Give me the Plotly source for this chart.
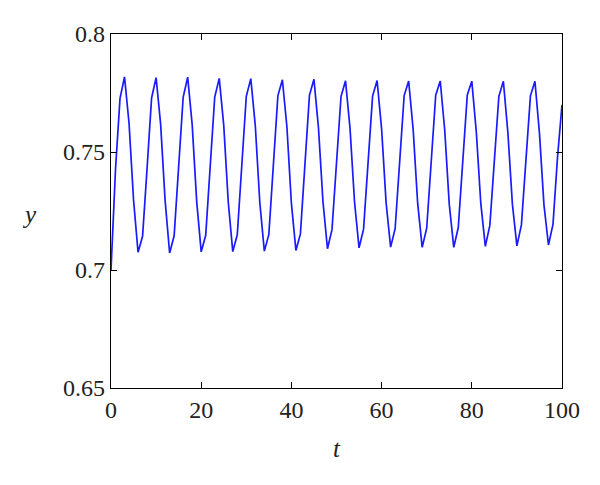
import plotly.graph_objects as go

t_values = list(range(0, 101))
y_values = [
    0.7000, 0.7427, 0.7727, 0.7818, 0.7622, 0.7297, 0.7075, 0.7143, 0.7431, 0.7729,
    0.7815, 0.7619, 0.7294, 0.7072, 0.7145, 0.7434, 0.7732, 0.7817, 0.7616, 0.7291,
    0.7077, 0.7147, 0.7437, 0.7733, 0.7812, 0.7613, 0.7288, 0.7078, 0.7149, 0.7440,
    0.7736, 0.7811, 0.7610, 0.7285, 0.7080, 0.7151, 0.7444, 0.7738, 0.7806, 0.7608,
    0.7282, 0.7083, 0.7153, 0.7447, 0.7740, 0.7808, 0.7603, 0.7290, 0.7090, 0.7171,
    0.7455, 0.7735, 0.7802, 0.7600, 0.7288, 0.7094, 0.7173, 0.7458, 0.7737, 0.7803,
    0.7598, 0.7285, 0.7097, 0.7175, 0.7461, 0.7739, 0.7801, 0.7595, 0.7282, 0.7096,
    0.7177, 0.7464, 0.7741, 0.7801, 0.7592, 0.7279, 0.7096, 0.7180, 0.7468, 0.7742,
    0.7800, 0.7585, 0.7281, 0.7100, 0.7189, 0.7470, 0.7736, 0.7800, 0.7582, 0.7279,
    0.7102, 0.7191, 0.7473, 0.7738, 0.7800, 0.7580, 0.7276, 0.7106, 0.7193, 0.7476,
    0.7700,
]

x_ticks = [0, 20, 40, 60, 80, 100]
y_ticks = [0.65, 0.7, 0.75, 0.8]
y_tick_text = ["0.65", "0.7", "0.75", "0.8"]

font_family = "Liberation Serif, DejaVu Serif, serif"

fig = go.Figure()
fig.add_trace(go.Scatter(
    x=t_values, y=y_values, mode="lines",
    line=dict(color="#1a1aff", width=1.7),
    showlegend=False,
))

axis_common = dict(
    showline=True, linecolor="black", linewidth=1.3, mirror="ticks",
    ticks="inside", ticklen=6, tickwidth=1.2, tickcolor="black",
    showgrid=False, zeroline=False,
    tickfont=dict(family=font_family, size=24, color="#222"),
)

fig.update_xaxes(range=[0, 100], tickvals=x_ticks, **axis_common)
fig.update_yaxes(range=[0.65, 0.8], tickvals=y_ticks, ticktext=y_tick_text, **axis_common)

fig.add_annotation(text="<i>y</i>", xref="paper", yref="paper", x=-0.18, y=0.49,
                   xanchor="center", yanchor="middle",
                   showarrow=False, font=dict(family=font_family, size=25, color="#222"))
fig.add_annotation(text="<i>t</i>", xref="paper", yref="paper", x=0.5, y=-0.17,
                   xanchor="center", yanchor="middle",
                   showarrow=False, font=dict(family=font_family, size=25, color="#222"))

fig.update_layout(
    width=600, height=485,
    margin=dict(l=103, r=46, t=26, b=105),
    plot_bgcolor="white", paper_bgcolor="white",
)

fig.write_html("out.html")
